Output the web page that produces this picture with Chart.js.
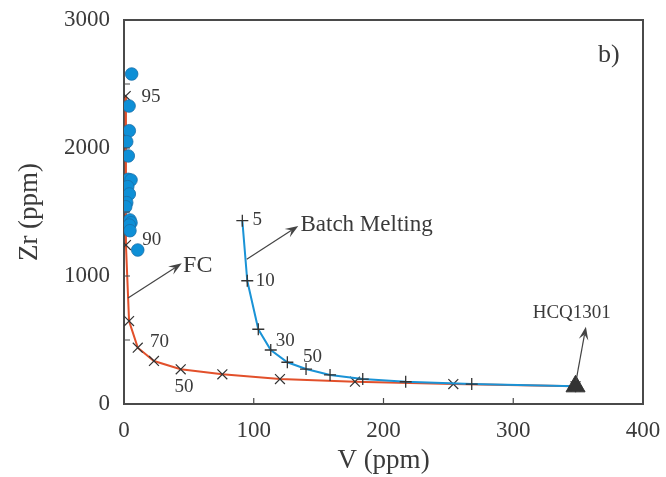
<!DOCTYPE html>
<html lang="en">
<head>
  <meta charset="UTF-8">
  <title>Zr vs V</title>
  <script src="https://cdn.jsdelivr.net/npm/chart.js"></script>
  <style>
    html, body { margin: 0; padding: 0; background: #fff; }
    #wrap { width: 666px; height: 477px; }
  </style>
</head>
<body>
  <div id="wrap"><canvas id="zrChart" width="666" height="477"></canvas></div>

  <script>
    // samples (blue dots)
    const sampleV  = [5.9, 3.9, 4.1, 2.1, 3.3, 3.3, 5.4, 2.9, 4.1, 2.1, 1.3, 4.6, 5.4, 4.1, 4.6, 10.6];
    const sampleZr = [2578, 2328, 2135, 2049, 1938, 1755, 1750, 1698, 1641, 1573, 1541, 1438, 1416, 1398, 1354, 1203];

    // fractional crystallization curve (FC)
    const fcV  = [1.3, 1.5, 3.9, 10.6, 23.1, 43.7, 75.8, 120.2, 178, 253.8, 348];
    const fcZr = [2406, 1242, 648, 440, 336, 271, 232, 195, 174, 156, 138];

    // batch melting curve
    const bmV  = [91.2, 95, 103.5, 113.1, 125.9, 140.3, 158.8, 184, 217.1, 268, 348];
    const bmZr = [1432, 963, 584, 422, 326, 273, 227, 195, 174, 156, 138];

    // starting composition HCQ1301
    const hcqV = 348, hcqZr = 138;

    const xTicks = [0, 100, 200, 300, 400];
    const yTicks = [0, 1000, 2000, 3000];
    const yMinorTicks = [500, 1000, 1500, 2000, 2500];
    const xMinorTicks = [100, 200, 300];

    // text labels: [text, V, Zr, size]
    const notes = [
      ['95', 13.5, 2398, 19], ['90', 14, 1281, 19], ['70', 20, 484, 19], ['50', 39, 133, 19],
      ['5', 99, 1437, 19], ['10', 101.5, 961, 19], ['30', 117, 492, 19], ['50', 138, 367, 19],
      ['FC', 45.5, 1078, 24], ['Batch Melting', 136, 1398, 23], ['HCQ1301', 315, 711, 19]
    ];
    // arrows: [fromV, fromZr, toV, toZr]
    const arrows = [
      [3.1, 828, 44.5, 1099],
      [94.6, 1130, 134.3, 1391],
      [348.4, 180, 356, 604]
    ];

    const pts = (xs, ys) => xs.map((x, i) => ({ x: x, y: ys[i] }));
    const serif = '"Liberation Serif", "DejaVu Serif", serif';
    const ink = '#3a3a3a';

    const extras = {
      id: 'extras',
      afterDraw(chart) {
        const { ctx, chartArea: a, scales: { x, y } } = chart;
        ctx.save();
        // frame top/right
        ctx.strokeStyle = '#4a4a4a';
        ctx.lineWidth = 2;
        ctx.beginPath();
        ctx.moveTo(a.left, a.top); ctx.lineTo(a.right, a.top); ctx.lineTo(a.right, a.bottom);
        ctx.stroke();
        // inward ticks
        ctx.lineWidth = 1.2;
        ctx.beginPath();
        xMinorTicks.forEach(v => { const px = x.getPixelForValue(v); ctx.moveTo(px, a.bottom); ctx.lineTo(px, a.bottom - 6); });
        yMinorTicks.forEach(v => { const py = y.getPixelForValue(v); ctx.moveTo(a.left, py); ctx.lineTo(a.left + 6, py); });
        ctx.stroke();

        // arrows
        ctx.strokeStyle = '#444';
        ctx.fillStyle = '#444';
        arrows.forEach(([v0, z0, v1, z1]) => {
          const x0 = x.getPixelForValue(v0), y0 = y.getPixelForValue(z0);
          const x1 = x.getPixelForValue(v1), y1 = y.getPixelForValue(z1);
          const ang = Math.atan2(y1 - y0, x1 - x0);
          ctx.lineWidth = 1.2;
          ctx.beginPath(); ctx.moveTo(x0, y0); ctx.lineTo(x1 - 8 * Math.cos(ang), y1 - 8 * Math.sin(ang)); ctx.stroke();
          ctx.beginPath();
          ctx.moveTo(x1, y1);
          ctx.lineTo(x1 - 14 * Math.cos(ang - 0.35), y1 - 14 * Math.sin(ang - 0.35));
          ctx.lineTo(x1 - 8 * Math.cos(ang), y1 - 8 * Math.sin(ang));
          ctx.lineTo(x1 - 14 * Math.cos(ang + 0.35), y1 - 14 * Math.sin(ang + 0.35));
          ctx.closePath(); ctx.fill();
        });

        // labels
        ctx.fillStyle = ink;
        ctx.textBaseline = 'middle';
        ctx.textAlign = 'left';
        notes.forEach(([t, v, z, s]) => {
          ctx.font = s + 'px ' + serif;
          ctx.fillText(t, x.getPixelForValue(v), y.getPixelForValue(z));
        });
        ctx.font = '26px ' + serif;
        ctx.fillText('b)', 598, 55);

        // axis titles
        ctx.textAlign = 'center';
        ctx.font = '27px ' + serif;
        ctx.fillText('V (ppm)', (a.left + a.right) / 2, 461);
        ctx.translate(30, (a.top + a.bottom) / 2);
        ctx.rotate(-Math.PI / 2);
        ctx.fillText('Zr (ppm)', 0, 0);
        ctx.restore();
      }
    };

    new Chart(document.getElementById('zrChart'), {
      type: 'scatter',
      data: {
        datasets: [
          {
            label: 'FC', data: pts(fcV, fcZr), showLine: true, order: 3,
            borderColor: '#e2502b', borderWidth: 2,
            pointStyle: 'crossRot', pointRadius: 7, pointBorderColor: '#333', pointBorderWidth: 1.2,
            pointBackgroundColor: '#333'
          },
          {
            label: 'Batch Melting', data: pts(bmV, bmZr), showLine: true, order: 2,
            borderColor: '#1a93d6', borderWidth: 2,
            pointStyle: 'cross', pointRadius: 6, pointBorderColor: '#333', pointBorderWidth: 1.3,
            pointBackgroundColor: '#333'
          },
          {
            label: 'Samples', data: pts(sampleV, sampleZr), order: 1,
            backgroundColor: '#0e8fd6', borderColor: '#1a6ea8', borderWidth: 0.8, pointRadius: 6.3
          },
          {
            label: 'HCQ1301', data: [{ x: hcqV, y: hcqZr }], order: 0,
            pointStyle: 'triangle', pointRadius: 11, backgroundColor: '#333', borderColor: '#333'
          }
        ]
      },
      options: {
        responsive: false,
        animation: false,
        layout: { padding: { top: 20, right: 23, left: 0, bottom: 0 } },
        plugins: { legend: { display: false }, tooltip: { enabled: false } },
        scales: {
          x: {
            type: 'linear', min: 0, max: 400,
            afterFit: s => { s.height = 73; s.paddingLeft = 0; s.paddingRight = 0; },
            afterBuildTicks: s => { s.ticks = xTicks.map(v => ({ value: v })); },
            grid: { display: false },
            border: { display: true, color: '#4a4a4a', width: 2 },
            ticks: { color: ink, font: { family: serif, size: 23 }, padding: 5, maxRotation: 0, callback: v => String(v) }
          },
          y: {
            type: 'linear', min: 0, max: 3000,
            afterFit: s => { s.width = 124; s.paddingTop = 0; s.paddingBottom = 0; },
            afterBuildTicks: s => { s.ticks = yTicks.map(v => ({ value: v })); },
            grid: { display: false },
            border: { display: true, color: '#4a4a4a', width: 2 },
            ticks: { color: ink, font: { family: serif, size: 23 }, padding: 6, callback: v => String(v) }
          }
        }
      },
      plugins: [extras]
    });
  </script>
</body>
</html>
